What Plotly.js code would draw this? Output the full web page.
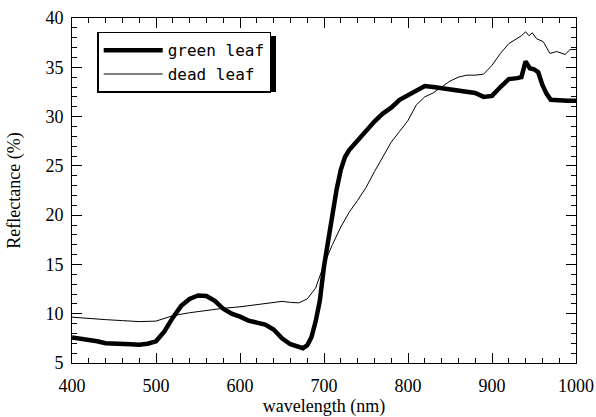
<!DOCTYPE html>
<html>
<head>
<meta charset="utf-8">
<script src="https://cdn.plot.ly/plotly-3.0.1.min.js"></script>
<style>html,body{margin:0;padding:0;background:#fff;}#chart{width:596px;height:417px;}</style>
</head>
<body>
<div id="chart"></div>
<script>
// Green leaf spectrum
const greenWavelength = [400,410,420,430,440,450,460,470,480,490,500,510,520,530,540,550,560,570,580,590,600,610,620,630,640,650,660,670,675,680,685,690,695,700,705,710,715,720,725,730,740,750,760,770,780,790,800,810,820,830,840,850,860,870,880,890,900,910,920,930,935,940,945,950,955,960,965,970,980,990,1000];
const greenReflectance = [7.6,7.5,7.4,7.2,7.0,7.0,6.95,6.9,6.85,6.95,7.2,8.2,9.6,10.8,11.5,11.85,11.8,11.3,10.5,10.0,9.7,9.3,9.1,8.9,8.4,7.5,6.9,6.6,6.5,6.8,7.6,9.2,11.3,14.8,17.5,19.8,22.6,24.6,25.9,26.6,27.6,28.6,29.5,30.3,30.9,31.7,32.2,32.7,33.1,33.0,32.9,32.8,32.7,32.6,32.4,32.0,32.1,33.0,33.8,33.9,34.0,35.6,34.9,34.8,34.5,33.2,32.3,31.7,31.6,31.6,31.6];
// Dead leaf spectrum
const deadWavelength = [400,420,440,460,480,500,510,520,540,560,580,600,620,640,650,660,670,680,690,700,710,720,730,740,750,760,770,780,790,800,810,820,830,840,850,860,870,880,890,900,910,920,930,935,940,944,948,953,961,969,977,987,993,1000];
const deadReflectance = [9.65,9.5,9.4,9.3,9.2,9.25,9.5,9.8,10.1,10.35,10.55,10.7,10.9,11.15,11.25,11.15,11.1,11.5,12.6,15.0,17.0,18.8,20.3,21.5,22.8,24.4,25.9,27.4,28.5,29.6,31.2,32.0,32.4,33.0,33.6,34.0,34.2,34.2,34.3,35.2,36.4,37.4,37.9,38.2,38.6,38.2,38.5,37.9,37.6,36.4,36.6,36.3,36.8,36.8];
const seriesNames = ['green leaf','dead leaf'];
const xTitle = 'wavelength (nm)';
const yTitle = 'Reflectance (%)';

const serif = '"Liberation Serif", "Times New Roman", serif';
const traces = [
  {x: greenWavelength, y: greenReflectance, name: seriesNames[0], mode: 'lines', line: {color: '#000', width: 4.5}},
  {x: deadWavelength, y: deadReflectance, name: seriesNames[1], mode: 'lines', line: {color: '#000', width: 1}}
];
const axisCommon = {
  showline: true, linecolor: '#000', linewidth: 1, mirror: 'ticks',
  ticks: 'inside', tickcolor: '#000', tickwidth: 1,
  showgrid: false, zeroline: false,
  tickfont: {family: serif, size: 18, color: '#000'}
};
// plot area in px: x 72..576, y 18..363
const px = v => (v - 72) / 504;
const py = v => (363 - v) / 345;
const layout = {
  width: 596, height: 417,
  margin: {l: 72, r: 20, t: 18, b: 54},
  paper_bgcolor: '#fff', plot_bgcolor: '#fff',
  showlegend: true,
  xaxis: Object.assign({}, axisCommon, {
    range: [400, 1000], dtick: 100, tick0: 0, ticklen: 10,
    minor: {dtick: 20, ticklen: 5, ticks: 'inside', tickcolor: '#000'},
    ticklabelstandoff: 6,
    title: {text: xTitle, font: {family: serif, size: 18, color: '#000'}, standoff: 2}
  }),
  yaxis: Object.assign({}, axisCommon, {
    range: [5, 40], dtick: 5, tick0: 0, ticklen: 10,
    minor: {dtick: 1, ticklen: 5, ticks: 'inside', tickcolor: '#000'},
    ticklabelstandoff: 4,
    title: {text: yTitle, font: {family: serif, size: 18, color: '#000'}, standoff: 20}
  }),
  legend: {
    x: 0.05, y: 0.96, xanchor: 'left', yanchor: 'top',
    bgcolor: '#fff', bordercolor: '#000', borderwidth: 1.5,
    itemwidth: 59,
    font: {family: '"DejaVu Sans Mono", monospace', size: 16, color: '#000'}
  },
  shapes: [
    {type: 'rect', xref: 'paper', yref: 'paper', layer: 'above',
     x0: px(101), x1: px(276), y0: py(92), y1: py(36),
     fillcolor: '#000', line: {width: 0}}
  ]
};
Plotly.newPlot('chart', traces, layout, {staticPlot: true, displayModeBar: false});
</script>
</body>
</html>
